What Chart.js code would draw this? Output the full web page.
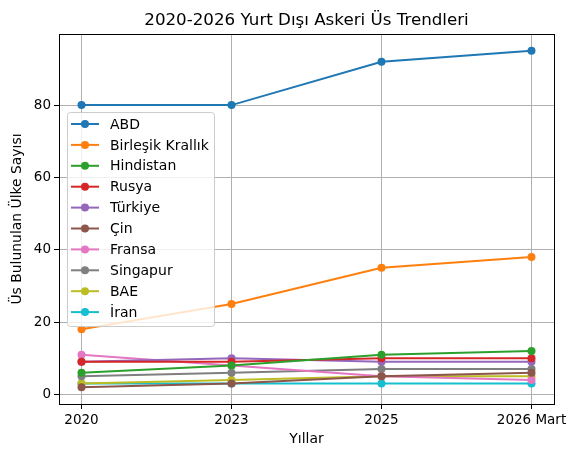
<!DOCTYPE html>
<html lang="tr">
<head>
    <meta charset="UTF-8">
    <title>Yurt Dışı Askeri Üs Trendleri</title>
    <style>
        html, body { margin: 0; padding: 0; background: #fff; }
        #wrap { width: 577px; height: 457px; }
    </style>
</head>
<body>
    <div id="wrap"><canvas id="myChart" width="577" height="457"></canvas></div>

    <script src="https://cdn.jsdelivr.net/npm/chart.js"></script>
    <script>
        // x axis categories
        const years = ['2020', '2023', '2025', '2026 Mart'];
        const yTicks = [0, 20, 40, 60, 80];

        const countries = ['ABD', 'Birleşik Krallık', 'Hindistan', 'Rusya', 'Türkiye', 'Çin', 'Fransa', 'Singapur', 'BAE', 'İran'];
        const abd = [80, 80, 92, 95];
        const uk = [18, 25, 35, 38];
        const india = [6, 8, 11, 12];
        const russia = [9, 9, 10, 10];
        const turkey = [9, 10, 9, 9];
        const china = [2, 3, 5, 6];
        const france = [11, 8, 5, 4];
        const singapore = [5, 6, 7, 7];
        const uae = [3, 4, 5, 5];
        const iran = [3, 3, 3, 3];
        const series = [abd, uk, india, russia, turkey, china, france, singapore, uae, iran];
        const colors = ['#1f77b4', '#ff7f0e', '#2ca02c', '#d62728', '#9467bd', '#8c564b', '#e377c2', '#7f7f7f', '#bcbd22', '#17becf'];

        const FONT = 'DejaVu Sans';

        const datasets = series.map((vals, k) => ({
            label: countries[k],
            data: vals.map((v, i) => ({ x: i, y: v })),
            borderColor: colors[k],
            backgroundColor: colors[k],
            borderWidth: 2,
            pointRadius: 4,
            pointHoverRadius: 4,
            pointBorderWidth: 0,
            tension: 0
        }));

        // frame + matplotlib-like legend box
        const framePlugin = {
            id: 'frame',
            afterLayout(chart) {
                // center the title over the plot area, like matplotlib
                if (chart.titleBlock) {
                    chart.titleBlock.left = chart.chartArea.left;
                    chart.titleBlock.right = chart.chartArea.right;
                }
            },
            afterDraw(chart) {
                const ctx = chart.ctx;
                const a = chart.chartArea;
                ctx.save();
                ctx.strokeStyle = '#000';
                ctx.lineWidth = 1;
                ctx.strokeRect(Math.round(a.left) + 0.5, Math.round(a.top) + 0.5, Math.round(a.right - a.left), Math.round(a.bottom - a.top));

                const bx = 67, by = 112, bw = 147, bh = 214, rowH = 20.9;
                ctx.fillStyle = 'rgba(255,255,255,0.8)';
                ctx.strokeStyle = '#cccccc';
                ctx.beginPath();
                ctx.roundRect(bx + 0.5, by + 0.5, bw, bh, 3);
                ctx.fill();
                ctx.stroke();

                ctx.font = '14px ' + FONT;
                ctx.textBaseline = 'middle';
                chart.data.datasets.forEach((ds, k) => {
                    const y = by + 12 + k * rowH;
                    ctx.strokeStyle = ds.borderColor;
                    ctx.lineWidth = 2;
                    ctx.beginPath();
                    ctx.moveTo(71, y);
                    ctx.lineTo(99, y);
                    ctx.stroke();
                    ctx.fillStyle = ds.borderColor;
                    ctx.beginPath();
                    ctx.arc(85, y, 4, 0, Math.PI * 2);
                    ctx.fill();
                    ctx.fillStyle = '#000';
                    ctx.fillText(ds.label, 110, y + 1);
                });
                ctx.restore();
            }
        };

        const config = {
            type: 'line',
            data: { datasets: datasets },
            options: {
                responsive: false,
                animation: false,
                layout: { padding: { left: 9, right: 23, top: 0, bottom: 9 } },
                plugins: {
                    legend: { display: false },
                    tooltip: { enabled: false },
                    title: {
                        display: true,
                        text: '2020-2026 Yurt Dışı Askeri Üs Trendleri',
                        color: '#000',
                        font: { family: FONT, size: 16.7, weight: 'normal' },
                        padding: { top: 11, bottom: 3 }
                    }
                },
                scales: {
                    x: {
                        type: 'linear',
                        min: -0.15,
                        max: 3.15,
                        afterBuildTicks: (s) => { s.ticks = years.map((l, i) => ({ value: i })); },
                        afterFit: (s) => { s.height = 44; },
                        ticks: {
                            color: '#000',
                            font: { family: FONT, size: 13.5 },
                            padding: 3,
                            maxRotation: 0,
                            callback: (v) => years[v]
                        },
                        grid: { color: '#b0b0b0', lineWidth: 1, tickColor: '#000', tickLength: 5 },
                        border: { display: false },
                        title: {
                            display: true,
                            text: 'Yıllar',
                            color: '#000',
                            font: { family: FONT, size: 13.9 },
                            padding: { top: 2, bottom: 0 }
                        }
                    },
                    y: {
                        min: -2.65,
                        max: 99.65,
                        afterBuildTicks: (s) => { s.ticks = yTicks.map(v => ({ value: v })); },
                        afterFit: (s) => { s.width = 50; },
                        ticks: {
                            color: '#000',
                            font: { family: FONT, size: 13.5 },
                            padding: 3
                        },
                        grid: { color: '#b0b0b0', lineWidth: 1, tickColor: '#000', tickLength: 5 },
                        border: { display: false },
                        title: {
                            display: true,
                            text: 'Üs Bulunulan Ülke Sayısı',
                            color: '#000',
                            font: { family: FONT, size: 13.9 },
                            padding: { top: 0, bottom: 4 }
                        }
                    }
                }
            },
            plugins: [framePlugin]
        };

        const myChart = new Chart(document.getElementById('myChart'), config);
    </script>
</body>
</html>
